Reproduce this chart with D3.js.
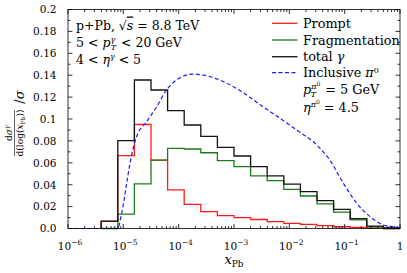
<!DOCTYPE html>
<html><head><meta charset="utf-8">
<script src="https://cdn.jsdelivr.net/npm/d3@7"></script>
<style>
html,body{margin:0;padding:0;background:#fff;}
svg{display:block;}
</style></head>
<body><svg id="c" width="407" height="273"></svg>
<script>
// ---- data ----
const binEdgeExp = [-5.4,-5.1,-4.8,-4.5,-4.2,-3.9,-3.6,-3.3,-3.0,-2.7,-2.4,-2.1,-1.8,-1.5,-1.2,-0.9,-0.6,-0.3,0.0];
const prompt = [0.0065,0.0665,0.095,0.0625,0.0352,0.0221,0.0154,0.0117,0.0099,0.0082,0.0062,0.0047,0.0038,0.0026,0.0016,0.0011,0.0004,0.0];
const fragmentation = [0.0,0.0132,0.0408,0.0625,0.0732,0.0726,0.0692,0.0619,0.0565,0.048,0.0437,0.0358,0.0297,0.0224,0.015,0.0078,0.0015,0.0];
const totalGamma = [0.0068,0.0802,0.1356,0.1265,0.1076,0.0945,0.0842,0.0741,0.0662,0.0565,0.048,0.0406,0.0336,0.0254,0.0175,0.009,0.0022,0.0005];
const piExp = [-6,-5.105,-5.03,-4.94,-4.88,-4.76,-4.58,-4.40,-4.22,-4.04,-3.74,-3.43,-3.01,-2.47,-1.87,-1.5,-1.27,-1.02,-0.78,-0.54,-0.3,-0.06,0];
const piVal = [0,0,0.0139,0.041,0.0595,0.084,0.0975,0.111,0.1265,0.1356,0.141,0.1386,0.1295,0.111,0.09,0.076,0.0626,0.041,0.023,0.0108,0.0032,0.001,0];
const xTickExp = [-6,-5,-4,-3,-2,-1,0];
const yTicks = [0,0.02,0.04,0.06,0.08,0.1,0.12,0.14,0.16,0.18,0.2];
const yTickLabels = ["0.0","0.02","0.04","0.06","0.08","0.1","0.12","0.14","0.16","0.18","0.2"];

// ---- layout ----
const FONT="DejaVu Serif, serif";
const L=68,R=400,T=9.5,B=228.5;
const svg=d3.select("#c");
const x=d3.scaleLog().domain([1e-6,1]).range([L,R]);
const y=d3.scaleLinear().domain([0,0.2]).range([B,T]);
const RED="#ff1a1a", GREEN="#1f7a1f", BLUE="#1a1aff";

function stepPath(vals){
  const pts=[[x(Math.pow(10,binEdgeExp[0])),y(0)]];
  vals.forEach((v,i)=>{
    pts.push([x(Math.pow(10,binEdgeExp[i])),y(v)]);
    pts.push([x(Math.pow(10,binEdgeExp[i+1])),y(v)]);
  });
  pts.push([x(Math.pow(10,binEdgeExp[binEdgeExp.length-1])),y(0)]);
  return d3.line()(pts);
}
const plot=svg.append("g");
plot.append("path").attr("d",stepPath(prompt)).attr("fill","none").attr("stroke",RED).attr("stroke-width",1.3);
plot.append("path").attr("d",stepPath(fragmentation)).attr("fill","none").attr("stroke",GREEN).attr("stroke-width",1.3);
plot.append("path").attr("d",stepPath(totalGamma)).attr("fill","none").attr("stroke","#111").attr("stroke-width",1.3);
const piData=piExp.map((e,i)=>[Math.pow(10,e),piVal[i]]);
plot.append("path").attr("d",d3.line().x(d=>x(d[0])).y(d=>y(d[1])).curve(d3.curveMonotoneX)(piData))
  .attr("fill","none").attr("stroke",BLUE).attr("stroke-width",1.2).attr("stroke-dasharray","4,2.5");

// ---- axes ----
const ax=svg.append("g").attr("stroke","#000").attr("stroke-width",0.8);
const minorX=[];
xTickExp.slice(0,-1).forEach(e=>{for(let k=2;k<10;k++)minorX.push(k*Math.pow(10,e));});
minorX.forEach(v=>{
  ax.append("line").attr("x1",x(v)).attr("x2",x(v)).attr("y1",B).attr("y2",B-2.5);
  ax.append("line").attr("x1",x(v)).attr("x2",x(v)).attr("y1",T).attr("y2",T+2.5);
});
xTickExp.forEach(e=>{
  const v=Math.pow(10,e);
  ax.append("line").attr("x1",x(v)).attr("x2",x(v)).attr("y1",B).attr("y2",B-4.5);
  ax.append("line").attr("x1",x(v)).attr("x2",x(v)).attr("y1",T).attr("y2",T+4.5);
});
for(let i=0;i<yTicks.length-1;i++){
  const m=(yTicks[i]+yTicks[i+1])/2;
  ax.append("line").attr("x1",L).attr("x2",L+2.5).attr("y1",y(m)).attr("y2",y(m));
  ax.append("line").attr("x1",R).attr("x2",R-2.5).attr("y1",y(m)).attr("y2",y(m));
}
yTicks.forEach(v=>{
  ax.append("line").attr("x1",L).attr("x2",L+4.5).attr("y1",y(v)).attr("y2",y(v));
  ax.append("line").attr("x1",R).attr("x2",R-4.5).attr("y1",y(v)).attr("y2",y(v));
});
ax.append("rect").attr("x",L).attr("y",T).attr("width",R-L).attr("height",B-T).attr("fill","none");

// tick labels
yTicks.forEach((v,i)=>{
  svg.append("text").attr("x",56.5).attr("y",y(v)+3.8).attr("text-anchor","end")
    .style("font-family",FONT).attr("font-size",10.5).text(yTickLabels[i]);
});
xTickExp.forEach(e=>{
  const t=svg.append("text").attr("x",x(Math.pow(10,e))+(e===0?0:2)).attr("y",250).attr("text-anchor","middle")
    .style("font-family",FONT).attr("font-size",10.5);
  if(e===0){t.text("1");}
  else{
    t.append("tspan").text("10");
    t.append("tspan").attr("dy",-5.5).attr("font-size",7.5).text("−"+Math.abs(e));
  }
});

// rich text helper
function rich(xp,yp,size,parts,anchor){
  const t=svg.append("text").attr("x",xp).attr("y",yp).attr("font-size",size).style("font-family",FONT);
  if(anchor)t.attr("text-anchor",anchor);
  let shift=0;
  parts.forEach(p=>{
    const s=p[0],o=p[1]||{};
    const ts=t.append("tspan").text(s);
    let target=0;
    if(o.sup)target=-size*0.4;
    if(o.sub)target=size*0.25;
    if(o.shift!==undefined)target=o.shift;
    ts.attr("dy",target-shift);shift=target;
    if(o.i)ts.attr("font-style","italic");
    if(o.sup||o.sub)ts.attr("font-size",o.size||size*0.7);
    else if(o.size)ts.attr("font-size",o.size);
    if(o.dx)ts.attr("dx",o.dx);
    if(o.ol)ts.attr("text-decoration","overline");
  });
  return t;
}

// annotation
rich(76,29.5,12.5,[["p+Pb, "],["√"],["s",{i:true,ol:true}],[" = 8.8 TeV"]]);
rich(76,46.5,12.5,[["5 < "],["p",{i:true}],["γ",{i:true,shift:-5,size:8}],["T",{i:true,shift:3,size:8,dx:-4.5}],[" < 20 GeV",{shift:0,dx:1}]]);
rich(76,63.5,12.5,[["4 < "],["η",{i:true}],["γ",{i:true,shift:-4.5,size:8}],[" < 5",{shift:0}]]);

// legend
const legItems=[[RED,null],[GREEN,null],["#111",null],[BLUE,"4,2.5"]];
const legY=[23.3,40,56.7,72.7];
legItems.forEach((d,i)=>{
  svg.append("line").attr("x1",272).attr("x2",297.5).attr("y1",legY[i]).attr("y2",legY[i])
    .attr("stroke",d[0]).attr("stroke-width",1.3).attr("stroke-dasharray",d[1]);
});
rich(303,legY[0]+4.5,12.8,[["Prompt"]]);
rich(303,legY[1]+4.5,12.8,[["Fragmentation"]]);
rich(303,legY[2]+4.5,12.8,[["total "],["γ",{i:true}]]);
rich(303,legY[3]+4.5,12.8,[["Inclusive "],["π",{i:true}],["0",{shift:-4.5,size:8}]]);
rich(303,93.5,12.8,[["p",{i:true}],["π",{i:true,shift:-4.5,size:8}],["0",{shift:-8,size:6}],["T",{i:true,shift:3.5,size:8,dx:-9.5}],[" = 5 GeV",{shift:0,dx:5}]]);
rich(303,111.5,12.8,[["η",{i:true}],["π",{i:true,shift:-4.5,size:8}],["0",{shift:-8,size:6}],[" = 4.5",{shift:0}]]);

// x label
rich(234,264,13,[["x",{i:true}],["Pb",{shift:3,size:9}]],"middle");

// y label (rotated)
function rot(xp,yp,size,parts){
  const t=rich(0,0,size,parts,"middle");
  t.attr("transform",`translate(${xp},${yp}) rotate(-90)`);
  return t;
}
svg.append("line").attr("x1",14.5).attr("x2",14.5).attr("y1",110).attr("y2",156).attr("stroke","#000").attr("stroke-width",0.6);
rot(12,133,9,[["d"],["σ",{i:true}],["γ",{i:true,shift:-3.5,size:6.5}]]);
rot(22.5,133,9,[["d(log("],["x",{i:true}],["Pb",{shift:2,size:6}],["))",{shift:0}]]);
rot(24,97,13,[["/"],["σ",{i:true}]]);
</script></body></html>
